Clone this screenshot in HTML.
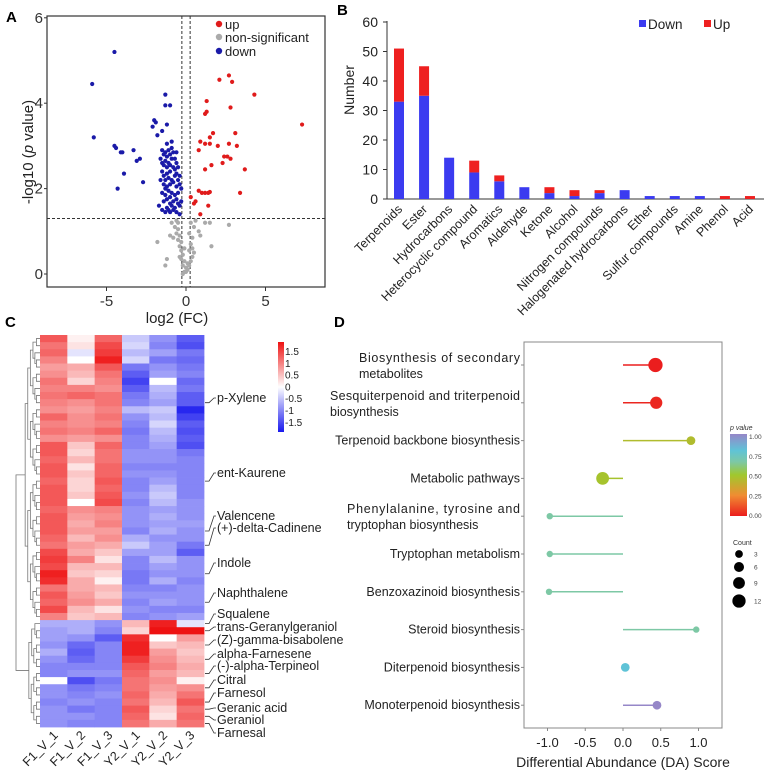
<!DOCTYPE html>
<html><head><meta charset="utf-8"><style>
html,body{margin:0;padding:0;background:#fff}
svg{display:block;font-family:"Liberation Sans",Arial,sans-serif}
</style></head><body>
<svg id="fig" width="767" height="771" viewBox="0 0 767 771" xmlns="http://www.w3.org/2000/svg">
<text x="6" y="22" font-size="15" font-weight="bold">A</text>
<text x="337" y="15" font-size="15" font-weight="bold">B</text>
<text x="5" y="327" font-size="15" font-weight="bold">C</text>
<text x="334" y="327" font-size="15" font-weight="bold">D</text>
<g id="pa"></g>
<g id="pb"></g>
<g id="pc"></g>
<g id="pd"></g>
</svg>
<script>
// ---------- Panel A data ----------
const upPts=[[2.7,4.65],[2.1,4.55],[2.9,4.5],[4.3,4.2],[1.3,4.05],[1.3,3.8],[1.2,3.75],[2.8,3.9],[7.3,3.5],[1.7,3.3],[1.5,3.2],[3.1,3.3],[0.9,3.1],[1.2,3.05],[1.5,3.05],[2.0,3.0],[2.7,3.05],[3.2,3.0],[0.8,2.9],[2.4,2.75],[2.6,2.75],[2.8,2.7],[1.6,2.55],[2.3,2.6],[1.2,2.45],[3.7,2.45],[0.8,1.95],[1.0,1.9],[1.2,1.9],[1.4,1.9],[1.5,1.92],[3.4,1.9],[0.5,1.65],[0.6,1.7],[1.4,1.6],[0.9,1.4],[0.3,1.8]];
const downPts=[[-4.5,5.2],[-5.9,4.45],[-5.8,3.2],[-4.5,3.0],[-4.4,2.95],[-4.1,2.85],[-4.0,2.85],[-3.3,2.9],[-3.1,2.65],[-2.9,2.7],[-3.9,2.35],[-2.7,2.15],[-4.3,2.0],[-2.0,3.6],[-1.9,3.55],[-2.1,3.45],[-1.8,3.25],[-1.3,4.2],[-1.3,3.95],[-1.0,3.95],[-1.2,3.5],[-1.5,3.35],
[-1.5,2.9],[-1.4,2.8],[-1.3,2.85],[-1.2,2.75],[-1.1,2.9],[-1.0,2.8],[-0.9,2.95],[-0.8,2.85],[-0.7,2.7],[-1.5,2.6],[-1.4,2.55],[-1.3,2.65],[-1.2,2.5],[-1.1,2.6],[-1.0,2.55],[-0.9,2.7],[-0.8,2.5],[-0.6,2.6],[-1.5,2.4],[-1.4,2.3],[-1.3,2.2],[-1.2,2.35],[-1.1,2.25],[-0.9,2.2],[-0.7,2.3],[-0.5,2.2],[-1.4,2.1],[-1.3,2.0],[-1.2,2.05],[-1.0,2.1],[-0.8,2.15],[-0.6,2.05],[-0.4,2.1],[-1.5,1.9],[-1.3,1.85],[-1.1,1.95],[-1.0,1.8],[-0.9,1.9],[-0.7,1.85],[-0.5,1.9],[-1.4,1.7],[-1.2,1.75],[-1.0,1.65],[-0.8,1.7],[-0.6,1.75],[-0.4,1.6],[-1.5,1.5],[-1.2,1.55],[-1.0,1.45],[-0.8,1.5],[-0.6,1.45],[-0.4,1.4],[-0.9,1.6],[-1.1,1.5],[-0.7,1.55],[-1.3,1.45],[-1.6,2.7],[-1.6,2.2],[-0.6,2.85],[-0.5,2.5],[-0.4,2.3],[-0.3,2.0],[-0.3,1.7],[-1.7,1.6],[-0.5,1.65],[-1.2,3.05],[-0.9,3.1],[-1.0,2.4],[-0.7,2.45],[-0.6,2.35]];
const nsPts=[[-0.6,1.25],[-0.5,1.2],[-0.7,1.1],[-0.5,1.05],[-0.6,0.95],[-0.4,0.9],[-0.5,0.8],[-0.3,0.75],[-0.4,0.65],[-0.3,0.55],[-0.2,0.45],[-0.3,0.35],[-0.1,0.3],[-0.2,0.2],[0.0,0.15],[0.1,0.1],[-0.1,0.05],[0.2,0.2],[0.3,0.3],[0.4,0.4],[0.5,0.5],[0.4,0.6],[0.3,0.7],[0.4,0.85],[0.2,0.95],[0.5,1.1],[0.3,1.2],[0.6,1.25],[-0.8,0.85],[-0.9,1.2],[-1.0,0.9],[-0.2,0.0],[0.0,0.05],[0.1,0.25],[-0.4,0.4],[0.9,0.9],[-1.8,0.75],[-1.2,0.35],[-1.3,0.2],[1.6,0.65],[2.7,1.15],[1.5,1.2],[1.2,1.2],[0.8,1.0],[-0.1,0.6],[0.2,0.55]];
const aXTicks=[-5,0,5];
const aYTicks=[0,2,4,6];
// ---------- Panel B data ----------
const bCats=["Terpenoids","Ester","Hydrocarbons","Heterocyclic compound","Aromatics","Aldehyde","Ketone","Alcohol","Nitrogen compounds","Halogenated hydrocarbons","Ether","Sulfur compounds","Amine","Phenol","Acid"];
const bDown=[33,35,14,9,6,4,2,1,2,3,1,1,1,0,0];
const bUp=[18,10,0,4,2,0,2,2,1,0,0,0,0,1,1];
const bYTicks=[0,10,20,30,40,50,60];
// ---------- Panel C data ----------
const cCols=["F1_V_1","F1_V_2","F1_V_3","Y2_V_1","Y2_V_2","Y2_V_3"];
const cRows=[
[1.2,0.1,1.1,-0.4,-0.8,-1.2],[1.0,0.2,1.3,-0.3,-0.9,-1.3],[1.1,-0.2,1.4,-0.5,-0.7,-1.0],[0.9,0.0,1.6,-0.3,-1.0,-1.1],
[0.7,0.6,1.2,-1.0,-0.8,-1.0],[0.8,0.5,1.0,-1.2,-0.7,-0.9],[1.0,0.3,0.9,-1.4,0.0,-1.1],[0.9,0.9,0.8,-1.2,-0.5,-1.0],
[1.0,1.1,1.0,-1.0,-0.6,-1.2],[0.9,0.8,1.0,-0.9,-0.7,-1.2],[0.8,0.7,0.9,-0.5,-0.4,-1.6],[1.1,0.8,1.0,-0.8,-0.5,-1.4],
[0.9,0.8,0.9,-0.9,-0.3,-1.2],[1.0,0.9,1.1,-1.0,-0.5,-1.3],[0.8,0.7,0.8,-0.9,-0.6,-1.2],[1.2,0.4,1.1,-0.9,-0.7,-1.3],
[1.2,0.3,1.0,-0.8,-0.8,-1.0],[1.1,0.5,1.0,-0.8,-0.8,-0.9],[1.2,0.2,1.1,-0.9,-0.9,-0.9],[1.2,0.4,1.1,-0.8,-0.8,-0.9],
[1.1,0.3,1.2,-0.9,-0.7,-0.9],[1.2,0.3,1.1,-0.9,-0.5,-0.9],[1.2,0.4,1.2,-0.8,-0.4,-0.9],[1.2,0.0,1.3,-0.9,-0.5,-0.8],
[1.1,0.8,0.9,-0.8,-0.7,-0.8],[1.2,0.7,0.8,-0.8,-0.6,-0.8],[1.2,0.6,0.9,-0.8,-0.7,-0.7],[1.2,0.7,0.7,-0.9,-0.6,-0.8],
[1.1,0.5,0.8,-0.6,-0.8,-0.8],[1.0,0.7,0.6,-0.4,-0.7,-1.0],[1.3,0.6,0.4,-0.7,-0.7,-1.2],[1.4,0.9,0.2,-0.9,-0.5,-0.8],
[1.3,0.5,0.5,-0.9,-0.7,-0.8],[1.6,0.4,0.3,-1.0,-0.8,-0.8],[1.5,0.6,0.1,-1.0,-0.6,-0.9],[1.0,0.6,0.5,-0.9,-0.9,-0.8],
[1.2,0.7,0.4,-0.8,-0.8,-0.8],[1.1,0.8,0.6,-0.9,-0.7,-0.8],[1.3,0.5,0.2,-0.8,-0.9,-0.9],[0.9,0.4,0.5,-0.9,-0.8,-0.7],
[-0.6,-0.6,-0.8,0.5,1.6,-0.2],[-0.7,-0.6,-0.9,0.3,1.7,1.7],[-0.7,-0.8,-1.2,1.5,0.0,0.7],[-0.8,-1.1,-0.9,1.6,0.4,0.5],
[-0.6,-1.2,-0.9,1.6,0.7,0.4],[-0.8,-1.1,-0.9,1.4,0.8,0.5],[-0.9,-0.9,-0.9,1.2,0.9,0.6],[-0.9,-0.8,-0.8,1.1,0.7,0.5],
[0.0,-1.3,-1.0,1.0,0.8,0.1],[-0.8,-1.0,-0.9,1.0,0.7,0.8],[-0.8,-0.9,-0.8,1.1,0.6,1.0],[-0.9,-0.8,-0.9,1.0,0.5,1.2],
[-0.8,-1.0,-0.9,1.2,0.3,1.0],[-0.8,-0.8,-0.9,1.1,0.2,1.1],[-0.8,-0.9,-0.9,1.0,0.6,1.0]];
const cLabels=[["p-Xylene",9,402],["ent-Kaurene",20,477],["Valencene",27,520],["(+)-delta-Cadinene",29,532],["Indole",33,567],["Naphthalene",37,597],["Squalene",40,618],["trans-Geranylgeraniol",41,631],["(Z)-gamma-bisabolene",43,644],["alpha-Farnesene",45,658],["(-)-alpha-Terpineol",47,670],["Citral",49,684],["Farnesol",51,697],["Geranic acid",52,712],["Geraniol",53,724],["Farnesal",54,737]];
const cBarTicks=["1.5","1","0.5","0","-0.5","-1","-1.5"];
// ---------- Panel D data ----------
const dPaths=["Biosynthesis of secondary metabolites","Sesquiterpenoid and triterpenoid biosynthesis","Terpenoid backbone biosynthesis","Metabolic pathways","Phenylalanine, tyrosine and tryptophan biosynthesis","Tryptophan metabolism","Benzoxazinoid biosynthesis","Steroid biosynthesis","Diterpenoid biosynthesis","Monoterpenoid biosynthesis"];
const dScore=[0.43,0.44,0.9,-0.27,-0.97,-0.97,-0.98,0.97,0.03,0.45];
const dCount=[12,8,3,9,1,1,1,1,3,3];
const dPval=[0.0,0.02,0.45,0.48,0.66,0.66,0.66,0.66,0.8,1.0];
const dXTicks=[-1.0,-0.5,0.0,0.5,1.0];
const dPTicks=["1.00","0.75","0.50","0.25","0.00"];
const dCountTicks=[3,6,9,12];

const NS="http://www.w3.org/2000/svg";
function mk(parent,tag,attrs,text){const e=document.createElementNS(NS,tag);for(const k in attrs)e.setAttribute(k,attrs[k]);if(text!==undefined)e.textContent=text;parent.appendChild(e);return e;}

// ===== Panel A =====
(function(){
const g=document.getElementById('pa');
const ax=v=>186+v*15.9, ay=v=>274-v*42.7;
mk(g,'rect',{x:47,y:16,width:278,height:271,fill:'none',stroke:'#333','stroke-width':1.2});
aXTicks.forEach(t=>{mk(g,'line',{x1:ax(t),x2:ax(t),y1:287,y2:291,stroke:'#333'});
 const e=mk(g,'text',{x:ax(t),y:306,'font-size':15,'text-anchor':'middle',fill:'#333'},String(t));});
aYTicks.forEach(t=>{mk(g,'line',{x1:44,x2:47,y1:ay(t),y2:ay(t),stroke:'#333'});
 const e=mk(g,'text',{x:43,y:ay(t)+5,'font-size':15,'text-anchor':'end',fill:'#333'},t);});
mk(g,'line',{x1:47,x2:325,y1:ay(1.3),y2:ay(1.3),stroke:'#333','stroke-dasharray':'3,2'});
mk(g,'line',{x1:ax(-0.26),x2:ax(-0.26),y1:16,y2:287,stroke:'#333','stroke-dasharray':'3,2'});
mk(g,'line',{x1:ax(0.26),x2:ax(0.26),y1:16,y2:287,stroke:'#333','stroke-dasharray':'3,2'});
const dots=(arr,col,name)=>arr.forEach(p=>{const c=mk(g,'circle',{cx:ax(p[0]),cy:ay(p[1]),r:2.1,fill:col});});
dots(nsPts,'#aaaaaa','point-non-significant');dots(downPts,'#1a1aa8','point-down');dots(upPts,'#e01b1b','point-up');
[['up','#e01b1b',24],['non-significant','#aaaaaa',37],['down','#1a1aa8',51]].forEach(l=>{
 const c=mk(g,'circle',{cx:219,cy:l[2],r:3.2,fill:l[1]});
 const t=mk(g,'text',{x:225,y:l[2]+5,'font-size':13,fill:'#222'},l[0]);});
const yt=mk(g,'text',{transform:'translate(33,152) rotate(-90)','font-size':15,'text-anchor':'middle',fill:'#222'});

yt.innerHTML='-log10 (<tspan font-style="italic">p</tspan> value)';
const xt=mk(g,'text',{x:177,y:323,'font-size':15,'text-anchor':'middle',fill:'#222'},'log2 (FC)');

})();

// ===== Panel B =====
(function(){
const g=document.getElementById('pb');
const bx=i=>399+i*25.07, by=v=>199-v*2.95, bw=10;
mk(g,'line',{x1:387,x2:387,y1:21,y2:199,stroke:'#333'});
mk(g,'line',{x1:387,x2:764,y1:199,y2:199,stroke:'#333'});
bYTicks.forEach(t=>{mk(g,'line',{x1:383,x2:387,y1:by(t),y2:by(t),stroke:'#333'});
 const e=mk(g,'text',{x:378,y:by(t)+5,'font-size':14,'text-anchor':'end',fill:'#222'},t);});
bCats.forEach((c,i)=>{
 const d=mk(g,'rect',{x:bx(i)-bw/2,y:by(bDown[i]),width:bw,height:bDown[i]*2.95,fill:'#3b3bf0'});
 
 const u=mk(g,'rect',{x:bx(i)-bw/2,y:by(bDown[i]+bUp[i]),width:bw,height:bUp[i]*2.95,fill:'#ee2020'});
 
 const t=mk(g,'text',{transform:`translate(${bx(i)+4},${210}) rotate(-45)`,'font-size':12.5,'text-anchor':'end',fill:'#222'},c);
 });
const yt=mk(g,'text',{transform:'translate(354,90) rotate(-90)','font-size':14,'text-anchor':'middle',fill:'#222'},'Number');

[['Down','#3b3bf0',639],['Up','#ee2020',704]].forEach(l=>{
 const r=mk(g,'rect',{x:l[2],y:20,width:7,height:7,fill:l[1]});
 const t=mk(g,'text',{x:l[2]+9,y:29,'font-size':13.5,fill:'#222'},l[0]);});
})();

// ===== Panel C =====
(function(){
const g=document.getElementById('pc');
const x0=40,y0=335,cw=27.33,rh=392/cRows.length;
const col=v=>{const t=Math.min(1,Math.abs(v)/1.7);const w=[255,255,255];const e=v>0?[238,18,18]:[25,25,238];return `rgb(${w.map((a,i)=>Math.round(a+(e[i]-a)*t)).join(',')})`;};
cRows.forEach((row,r)=>row.forEach((v,c)=>{const e=mk(g,'rect',{x:x0+c*cw,y:y0+r*rh,width:cw+0.4,height:rh+0.4,fill:col(v)});}));
const dg=mk(g,'g',{stroke:'#777','stroke-width':0.8,fill:'none'});
function tree(lo,hi){if(hi-lo===1)return{y:y0+(lo+0.5)*rh,x:x0};const n=hi-lo;const m=lo+Math.floor(n/2);const a=tree(lo,m),b=tree(m,hi);const x=x0-2.6*Math.log2(n)-1;
 mk(dg,'path',{d:`M${a.x},${a.y}H${x}V${b.y}H${b.x}`});return{x:x,y:(a.y+b.y)/2};}
const A=tree(0,40),B=tree(40,cRows.length);mk(dg,'path',{d:`M${A.x},${A.y}H16V${B.y}H${B.x}`});
cCols.forEach((c,i)=>{const t=mk(g,'text',{transform:`translate(${x0+(i+0.5)*cw+5},${736}) rotate(-45)`,'font-size':12.5,'text-anchor':'end',fill:'#222'},c);});
cLabels.forEach(l=>{const ry=y0+(l[1]+0.5)*rh;mk(g,'path',{d:`M205,${ry}L209,${ry}L214,${l[2]-4}L216,${l[2]-4}`,stroke:'#333',fill:'none','stroke-width':0.8});
 const t=mk(g,'text',{x:217,y:l[2],'font-size':12.5,fill:'#222'},l[0]);});
const defs=mk(g,'defs',{});const lg=mk(defs,'linearGradient',{id:'hmg',x1:0,y1:0,x2:0,y2:1});
[['0',col(1.7)],['0.5','#fff'],['1',col(-1.7)]].forEach(s=>mk(lg,'stop',{offset:s[0],'stop-color':s[1]}));
const cb=mk(g,'rect',{x:278,y:342,width:6,height:90,fill:'url(#hmg)'});
cBarTicks.forEach((t,i)=>{const e=mk(g,'text',{x:285,y:355+i*11.8,'font-size':10,fill:'#222'},t);});
})();

// ===== Panel D =====
(function(){
const g=document.getElementById('pd');
const dx=v=>623+v*75.5, dy=i=>365+i*37.8;
const stops=[[0,[235,30,30]],[0.25,[240,140,50]],[0.5,[160,200,45]],[0.66,[125,200,165]],[0.8,[95,195,215]],[1,[150,135,200]]];
const pc=p=>{for(let i=1;i<stops.length;i++){if(p<=stops[i][0]){const a=stops[i-1],b=stops[i],t=(p-a[0])/(b[0]-a[0]);return `rgb(${a[1].map((v,k)=>Math.round(v+(b[1][k]-v)*t)).join(',')})`;}}return 'rgb(150,135,200)';};
const rr=c=>1.6+Math.sqrt(c)*1.6;
mk(g,'rect',{x:524,y:342,width:198,height:386,fill:'none',stroke:'#888','stroke-width':1});
dXTicks.forEach(t=>{mk(g,'line',{x1:dx(t),x2:dx(t),y1:728,y2:731,stroke:'#888'});
 const e=mk(g,'text',{x:dx(t),y:747,'font-size':13,'text-anchor':'middle',fill:'#222'},t.toFixed(1));});
const xt=mk(g,'text',{x:623,y:767,'font-size':14,'text-anchor':'middle',fill:'#222'},'Differential Abundance (DA) Score');
const two={0:['Biosynthesis  of  secondary','metabolites',359],1:['Sesquiterpenoid and triterpenoid','biosynthesis',330],4:['Phenylalanine,  tyrosine  and','tryptophan biosynthesis',347]};
dPaths.forEach((p,i)=>{
 mk(g,'line',{x1:521,x2:524,y1:dy(i),y2:dy(i),stroke:'#888'});
 let t;
 if(two[i]){t=mk(g,'text',{'font-size':12.5,fill:'#222'});t.innerHTML=`<tspan x="${two[i][2]}" y="${dy(i)-3}" textLength="${520-two[i][2]}">${two[i][0]}</tspan><tspan x="${two[i][2]}" y="${dy(i)+13}">${two[i][1]}</tspan>`;}
 else t=mk(g,'text',{x:520,y:dy(i)+4,'font-size':12.5,'text-anchor':'end',fill:'#222'},p);
 
 const c=pc(dPval[i]);
 const ln=mk(g,'line',{x1:dx(0),x2:dx(dScore[i]),y1:dy(i),y2:dy(i),stroke:c,'stroke-width':1.5});
 const ci=mk(g,'circle',{cx:dx(dScore[i]),cy:dy(i),r:rr(dCount[i]),fill:c});});
const pt=mk(g,'text',{x:730,y:430,'font-size':7,'font-style':'italic',fill:'#333'},'p value');
const defs=mk(g,'defs',{});const lg=mk(defs,'linearGradient',{id:'pg',x1:0,y1:1,x2:0,y2:0});
stops.forEach(s=>mk(lg,'stop',{offset:s[0],'stop-color':`rgb(${s[1].join(',')})`}));
const cb=mk(g,'rect',{x:730,y:434,width:17,height:82,fill:'url(#pg)'});
dPTicks.forEach((t,i)=>{const e=mk(g,'text',{x:749,y:439+i*19.8,'font-size':6.5,fill:'#444'},t);});
const ct=mk(g,'text',{x:733,y:545,'font-size':7,fill:'#333'},'Count');
const cy=[554,567,583,601];
dCountTicks.forEach((c,i)=>{const e=mk(g,'circle',{cx:739,cy:cy[i],r:rr(c)-0.5,fill:'#000'});
 const t=mk(g,'text',{x:754,y:cy[i]+2.5,'font-size':6.5,fill:'#444'},c);});
})();
</script>
</body></html>
